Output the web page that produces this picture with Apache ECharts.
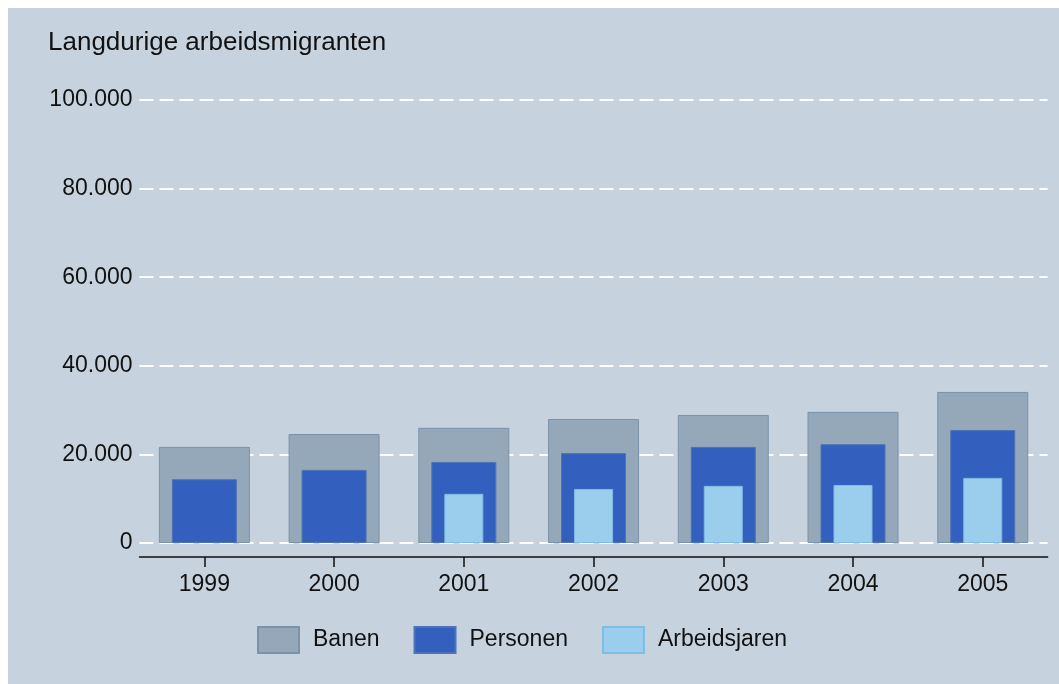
<!DOCTYPE html>
<html>
<head>
<meta charset="utf-8">
<script src="https://cdn.jsdelivr.net/npm/echarts@6.0.0/dist/echarts.min.js"></script>
<style>
  html, body { margin: 0; padding: 0; background: #ffffff; }
  #chart { position: absolute; left: 8px; top: 8px; width: 1051px; height: 676px; }
</style>
</head>
<body>
<div id="chart"></div>
<script>
// jaren
var years = ['1999', '2000', '2001', '2002', '2003', '2004', '2005'];
// waarden
var banen = [21700, 24600, 26000, 28000, 28900, 29600, 34100];
var personen = [14400, 16500, 18300, 20300, 21700, 22300, 25500];
var arbeidsjaren = [null, null, 11100, 12200, 12900, 13100, 14700];
var yTicks = [0, 20000, 40000, 60000, 80000, 100000];

var font = 'Liberation Sans, Arial, sans-serif';

function fmt(v) {
  return String(v).replace(/\B(?=(\d{3})+(?!\d))/g, '.');
}

var myChart = echarts.init(document.getElementById('chart'));

var option = {
  backgroundColor: '#c6d3df',
  textStyle: { fontFamily: font },
  title: {
    text: 'Langdurige arbeidsmigranten',
    left: 40,
    top: 22,
    padding: 0,
    textStyle: { fontSize: 26, fontWeight: 'normal', color: '#111', fontFamily: font }
  },
  legend: {
    data: ['Banen', 'Personen', 'Arbeidsjaren'],
    left: 244,
    top: 613,
    itemWidth: 41,
    itemHeight: 26,
    itemGap: 34,
    icon: 'rect',
    textStyle: { fontSize: 23, color: '#111', fontFamily: font, padding: [0, 0, 0, 9] }
  },
  grid: { left: 131.5, right: 11.4, top: 92, bottom: 141 },
  xAxis: [
    {
      type: 'category',
      data: years,
      offset: 14,
      axisLine: { show: true, onZero: false, lineStyle: { color: '#111', width: 1.5 } },
      axisTick: { show: true, alignWithLabel: true, length: 10, lineStyle: { color: '#111', width: 1.5 } },
      axisLabel: { fontSize: 23, color: '#111', margin: 16, fontFamily: font }
    },
    { type: 'category', data: years, show: false },
    { type: 'category', data: years, show: false }
  ],
  yAxis: {
    type: 'value',
    min: yTicks[0],
    max: yTicks[yTicks.length - 1],
    interval: 20000,
    axisLine: { show: false },
    axisTick: { show: false },
    axisLabel: {
      fontSize: 23, color: '#111', margin: 7, fontFamily: font,
      formatter: function (v) { return fmt(v); }
    },
    splitLine: { lineStyle: { color: '#ffffff', width: 2, type: [14, 6] } }
  },
  series: [
    {
      name: 'Banen', type: 'bar', xAxisIndex: 0, barWidth: 91,
      itemStyle: { color: '#95a8b9', borderColor: '#7a92aa', borderWidth: 1 },
      data: banen
    },
    {
      name: 'Personen', type: 'bar', xAxisIndex: 1, barWidth: 65,
      itemStyle: { color: '#3360bf', borderColor: '#4f74b4', borderWidth: 1 },
      data: personen
    },
    {
      name: 'Arbeidsjaren', type: 'bar', xAxisIndex: 2, barWidth: 39,
      itemStyle: { color: '#9bcdec', borderColor: '#80bce3', borderWidth: 1 },
      data: arbeidsjaren
    }
  ]
};

myChart.setOption(option);
window.addEventListener('resize', function () {
  myChart.resize();
});
</script>
</body>
</html>
